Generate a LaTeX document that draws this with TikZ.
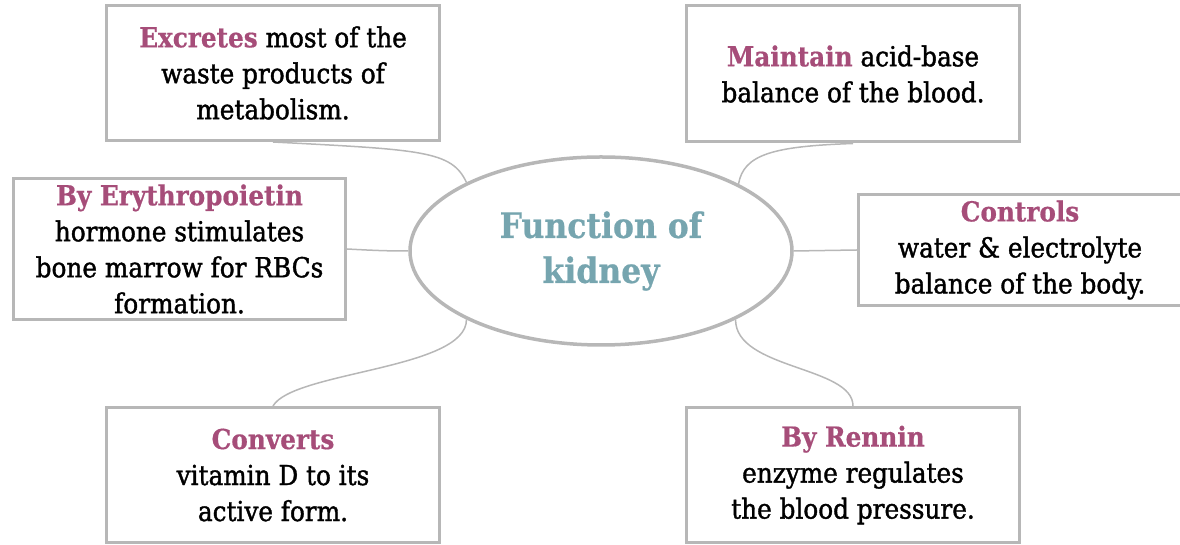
\documentclass[tikz,border=0pt]{standalone}
\usepackage{fontspec}
\setmainfont{DejaVu Serif Condensed}[UprightFeatures={FakeBold=1.4},BoldFeatures={FakeBold=0.6}]
\usetikzlibrary{shapes.geometric}
\definecolor{rosebud}{HTML}{A64D79}
\definecolor{kidneyblue}{HTML}{76A5AF}
\definecolor{lightline}{HTML}{B7B7B7}
\newcommand\fnword[1]{\textcolor{rosebud}{\textbf{#1}}}

\begin{document}
\begin{tikzpicture}[x=1pt,y=1pt,
    fnbox/.style={draw=lightline,line width=3pt,rectangle,align=center,inner sep=0pt,
        font=\fontsize{27.5}{36}\selectfont},
    link/.style={draw=lightline,line width=1.5pt}]
    \useasboundingbox (0,0) rectangle (1180,545);
    \node[ellipse,draw=lightline,line width=3.5pt,minimum width=382,minimum height=188,
        inner sep=0pt,align=center,text=kidneyblue,
        font=\fontsize{35}{45}\selectfont\bfseries] (kid) at (601,294) {Function of\\kidney};
    \node[fnbox,minimum width=333,minimum height=135] (excr) at (273,472)
        {\fnword{Excretes} most of the\\waste products of\\metabolism.};
    \node[fnbox,minimum width=333,minimum height=136] (maint) at (853,471)
        {\fnword{Maintain} acid-base\\balance of the blood.};
    \node[fnbox,minimum width=332,minimum height=141] (eryth) at (179.5,296)
        {\fnword{By Erythropoietin}\\hormone stimulates\\bone marrow for RBCs\\formation.};
    \node[fnbox,minimum width=323,minimum height=111] (ctrl) at (1020,295)
        {\fnword{Controls}\\water \& electrolyte\\balance of the body.};
    \node[fnbox,minimum width=333,minimum height=135] (conv) at (273,70)
        {\fnword{Converts}\\vitamin D to its\\active form.};
    \node[fnbox,minimum width=333,minimum height=135] (renn) at (853,70)
        {\fnword{By Rennin}\\enzyme regulates\\the blood pressure.};
    \draw[link] (excr.south) to[out=-3,in=115,out distance=150,in distance=35] (kid.153);
    \draw[link] (maint.south) to[out=182,in=80,out distance=80,in distance=30] (kid.26);
    \draw[link] (eryth.east) to[out=-3,in=180] (kid.west);
    \draw[link] (kid.east) -- (ctrl.west);
    \draw[link] (conv.north) to[out=60,in=-90,out distance=40,in distance=50] (kid.207);
    \draw[link] (kid.333) to[out=-90,in=90,out distance=50,in distance=40] (renn.north);
\end{tikzpicture}
\end{document}
